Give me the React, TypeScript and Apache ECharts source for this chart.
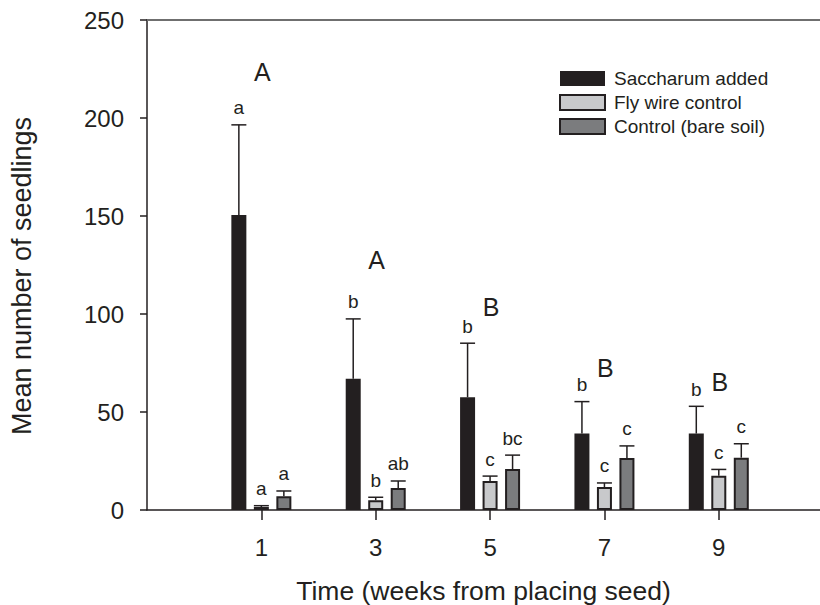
import React, { useEffect, useRef } from "react";
import * as echarts from "echarts";

// ---- data ----
const weeks = [1, 3, 5, 7, 9];
const treatmentNames = ["Saccharum added", "Fly wire control", "Control (bare soil)"];
const saccharumMean = [150.5, 67, 57.5, 39, 39];
const saccharumSE = [46, 30.5, 27.6, 16.3, 13.9];
const flyWireMean = [1.5, 5, 14.8, 11.7, 17.5];
const flyWireSE = [0.7, 1.5, 2.5, 2.1, 3.2];
const bareSoilMean = [7, 11.2, 20.9, 26.5, 26.7];
const bareSoilSE = [2.7, 3.6, 7.1, 6.2, 7.1];
const saccharumLetters = ["a", "b", "b", "b", "b"];
const flyWireLetters = ["a", "b", "c", "c", "c"];
const bareSoilLetters = ["a", "ab", "bc", "c", "c"];
const groupLetters = ["A", "A", "B", "B", "B"];
const groupLetterHeights = [223.5, 127.5, 103.5, 72.5, 65.5];

// ---- style constants ----
const BAR_W = 15;
const BAR_STEP = 22.5;
const INK = "#231f20";
const FILLS = ["#231f20", "#c8c9cb", "#7b7c7e"];
const FONT = "'Liberation Sans', Arial, sans-serif";

const means = [saccharumMean, flyWireMean, bareSoilMean];
const ses = [saccharumSE, flyWireSE, bareSoilSE];
const letters = [saccharumLetters, flyWireLetters, bareSoilLetters];

export default function App() {
  const ref = useRef<HTMLDivElement>(null);

  useEffect(() => {
    if (!ref.current) return;
    const chart = echarts.init(ref.current, undefined, { renderer: "svg" });

    const barSeries = treatmentNames.map((name, i) => ({
      name,
      type: "bar",
      xAxisIndex: 0,
      yAxisIndex: 0,
      barWidth: BAR_W,
      barGap: "50%",
      itemStyle: {
        color: FILLS[i],
        borderColor: INK,
        borderWidth: i === 0 ? 0 : 2,
      },
      data: weeks.map((w, k) => [w, means[i][k]]),
      z: 2,
    }));

    const errSeries = treatmentNames.map((name, i) => ({
      name: name + " err",
      type: "custom",
      xAxisIndex: 0,
      yAxisIndex: 0,
      data: weeks.map((w, k) => [w, means[i][k], ses[i][k]]),
      z: 3,
      renderItem: (params: any, api: any) => {
        const x = api.value(0);
        const m = api.value(1);
        const se = api.value(2);
        const base = api.coord([x, m]);
        const top = api.coord([x, m + se]);
        const cx = base[0] + (i - 1) * BAR_STEP;
        const lw = 1.5;
        return {
          type: "group",
          children: [
            {
              type: "line",
              shape: { x1: cx, y1: base[1], x2: cx, y2: top[1] },
              style: { stroke: INK, lineWidth: lw },
            },
            {
              type: "line",
              shape: { x1: cx - BAR_W / 2, y1: top[1], x2: cx + BAR_W / 2, y2: top[1] },
              style: { stroke: INK, lineWidth: lw },
            },
            {
              type: "text",
              x: cx,
              y: top[1] - 17,
              style: {
                text: letters[i][params.dataIndex],
                fontSize: 19,
                fontFamily: FONT,
                fill: INK,
                align: "center",
                verticalAlign: "middle",
              },
            },
          ],
        };
      },
    }));

    const groupSeries = {
      name: "groups",
      type: "custom",
      xAxisIndex: 0,
      yAxisIndex: 0,
      data: weeks.map((w, k) => [w, groupLetterHeights[k]]),
      z: 4,
      renderItem: (params: any, api: any) => {
        const p = api.coord([api.value(0), api.value(1)]);
        return {
          type: "text",
          x: p[0] + 1,
          y: p[1],
          style: {
            text: groupLetters[params.dataIndex],
            fontSize: 25,
            fontFamily: FONT,
            fill: INK,
            align: "center",
            verticalAlign: "middle",
          },
        };
      },
    };

    chart.setOption({
      animation: false,
      backgroundColor: "#ffffff",
      textStyle: { fontFamily: FONT },
      grid: { left: 147, right: 0, top: 20, bottom: 95, containLabel: false, outerBoundsMode: "none" },
      legend: {
        data: treatmentNames,
        orient: "vertical",
        left: 559,
        top: 69,
        padding: 0,
        itemWidth: 45,
        itemHeight: 15,
        itemGap: 5,
        icon: "rect",
        selectedMode: false,
        textStyle: { fontSize: 19, color: INK, fontFamily: FONT, padding: [0, 0, 0, 4] },
      },
      xAxis: [
        {
          type: "value",
          position: "bottom",
          min: -1,
          max: 10.77,
          name: "Time (weeks from placing seed)",
          nameLocation: "middle",
          nameGap: 67,
          nameTextStyle: { fontSize: 26.5, color: INK, fontFamily: FONT },
          axisLine: { show: true, onZero: false, lineStyle: { color: INK, width: 1.5 } },
          axisTick: { show: true, length: 10, customValues: weeks, lineStyle: { color: INK, width: 1.5 } },
          axisLabel: { customValues: weeks, fontSize: 24, color: INK, margin: 25, fontFamily: FONT },
          splitLine: { show: false },
        },
        {
          type: "value",
          position: "top",
          min: -1,
          max: 10.77,
          axisLine: { show: true, onZero: false, lineStyle: { color: "#6f6f6f", width: 2 } },
          axisTick: { show: false },
          axisLabel: { show: false },
          splitLine: { show: false },
        },
      ],
      yAxis: {
        type: "value",
        min: 0,
        max: 250,
        interval: 50,
        name: "Mean number of seedlings",
        nameLocation: "middle",
        nameGap: 112,
        nameTextStyle: { fontSize: 27, color: INK, fontFamily: FONT, padding: [0, 22, 0, 0] },
        axisLine: { show: true, onZero: false, lineStyle: { color: INK, width: 1.5 } },
        axisTick: { show: true, length: 7, lineStyle: { color: INK, width: 1.5 } },
        axisLabel: { fontSize: 24, color: INK, margin: 23, fontFamily: FONT },
        splitLine: { show: false },
      },
      series: [...barSeries, ...errSeries, groupSeries],
    });

    return () => chart.dispose();
  }, []);

  return (
    <div
      ref={ref}
      style={{ position: "fixed", left: 0, top: 0, width: 820, height: 605, background: "#fff" }}
    />
  );
}
